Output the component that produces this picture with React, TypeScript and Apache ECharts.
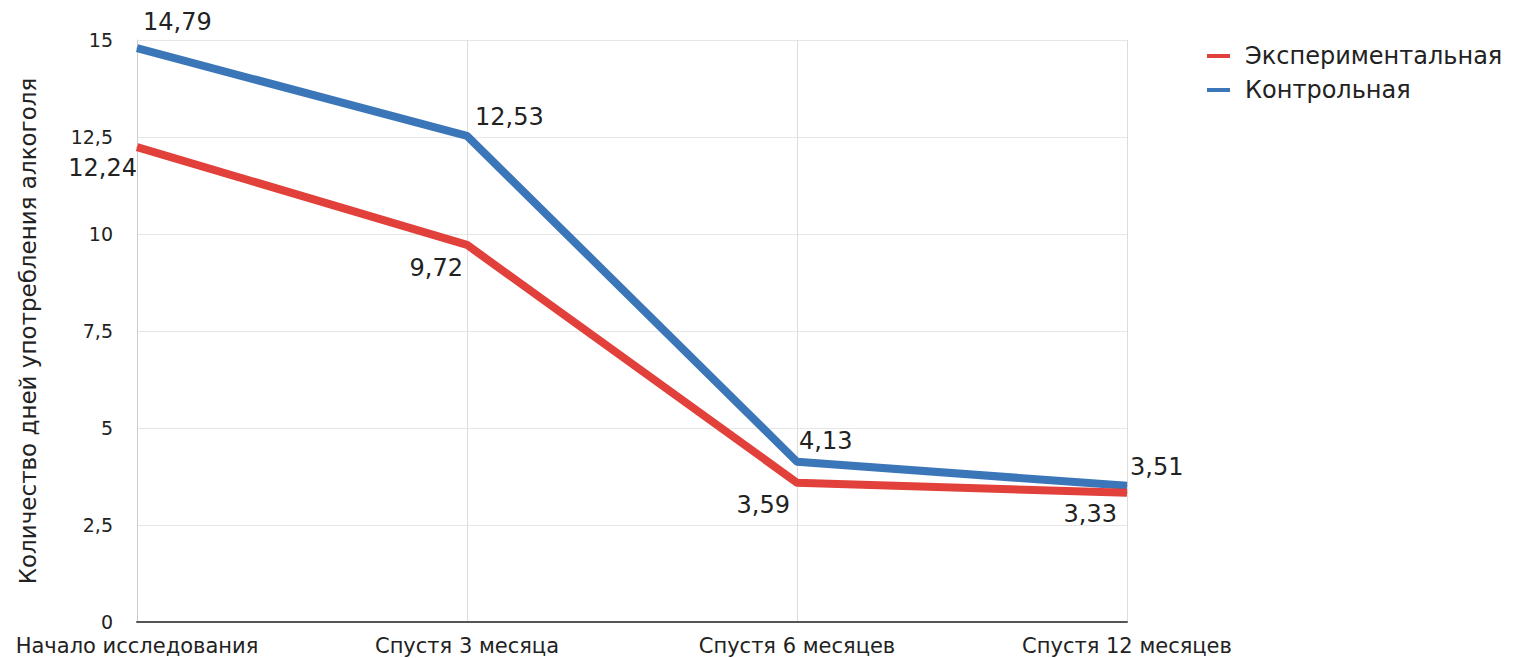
import React, { useEffect, useRef } from "react";
import * as echarts from "echarts";

const categories = ["Начало исследования", "Спустя 3 месяца", "Спустя 6 месяцев", "Спустя 12 месяцев"];
const experimental = [12.24, 9.72, 3.59, 3.33];
const control = [14.79, 12.53, 4.13, 3.51];
const yTicks = [0, 2.5, 5, 7.5, 10, 12.5, 15];
const seriesNames = ["Экспериментальная", "Контрольная"];
const yAxisTitle = "Количество дней употребления алкоголя";

const FONT = "'DejaVu Sans', Verdana, sans-serif";
const RED = "#E2403A";
const BLUE = "#3B76B8";
const TEXT = "#222";

const fmt = (v: number) => v.toFixed(2).replace(".", ",");
const tickFmt = (v: number) => String(v).replace(".", ",");

const blueOffsets: [number, number][] = [[6, -26], [8, -19], [2, -21], [3, -19]];
const redOffsets: [number, number][] = [[0, 21], [-4, 23], [-7, 22], [-10, 21]];

export default function App() {
  const ref = useRef<HTMLDivElement>(null);
  useEffect(() => {
    if (!ref.current) return;
    const chart = echarts.init(ref.current, null, { renderer: "svg" });
    const mkData = (vals: number[], offs: [number, number][], align: string) =>
      vals.map((v, i) => ({
        value: v,
        label: {
          show: true,
          position: "inside",
          offset: offs[i],
          align,
          verticalAlign: "middle",
          formatter: () => fmt(v),
          fontSize: 24,
          color: TEXT,
          fontFamily: FONT,
        },
      }));
    chart.setOption({
      animation: false,
      backgroundColor: "#fff",
      grid: { left: 137, right: 389, top: 40, bottom: 36, containLabel: false, outerBoundsMode: "none" },
      legend: {
        orient: "vertical",
        left: 1202,
        top: 39,
        itemWidth: 23,
        itemHeight: 4,
        itemGap: 10,
        icon: "rect",
        textStyle: { fontSize: 24, lineHeight: 24, color: TEXT, fontFamily: FONT, padding: [0, 0, 0, 10] },
        data: seriesNames,
      },
      xAxis: {
        type: "category",
        data: categories,
        boundaryGap: false,
        axisLine: { show: true, lineStyle: { color: "#555", width: 2 } },
        axisTick: { show: false },
        axisLabel: { fontSize: 21, color: TEXT, fontFamily: FONT, margin: 13, interval: 0 },
        splitLine: { show: true, lineStyle: { color: "#ddd", width: 1 } },
      },
      yAxis: {
        type: "value",
        min: 0,
        max: 15,
        interval: 2.5,
        name: yAxisTitle,
        nameLocation: "middle",
        nameGap: 98,
        nameTextStyle: { fontSize: 23, color: TEXT, fontFamily: FONT },
        axisLine: { show: true, lineStyle: { color: "#ccc", width: 1 } },
        axisTick: { show: false },
        axisLabel: {
          fontSize: 19,
          color: TEXT,
          fontFamily: FONT,
          margin: 24,
          formatter: (v: number) => (yTicks.includes(v) ? tickFmt(v) : ""),
        },
        splitLine: { show: true, lineStyle: { color: "#e6e6e6", width: 1 } },
      },
      series: [
        {
          name: seriesNames[0],
          type: "line",
          data: mkData(experimental, redOffsets, "right"),
          symbol: "circle",
          symbolSize: 1,
          color: RED,
          lineStyle: { width: 8, color: RED, join: "round" },
          itemStyle: { color: RED },
          z: 3,
        },
        {
          name: seriesNames[1],
          type: "line",
          data: mkData(control, blueOffsets, "left"),
          symbol: "circle",
          symbolSize: 1,
          color: BLUE,
          lineStyle: { width: 8, color: BLUE, join: "round" },
          itemStyle: { color: BLUE },
          z: 2,
        },
      ],
    });
    return () => chart.dispose();
  }, []);
  return (
    <div
      ref={ref}
      style={{ position: "absolute", left: 0, top: 0, width: 1516, height: 658, background: "#fff" }}
    />
  );
}
